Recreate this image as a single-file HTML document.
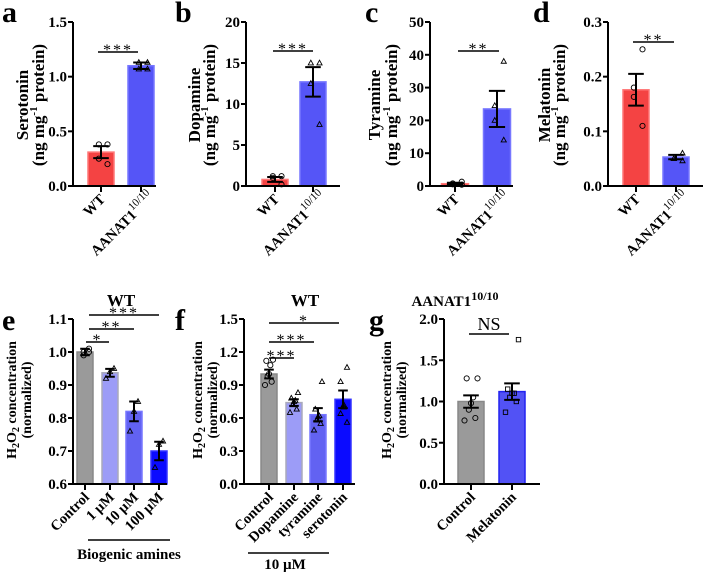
<!DOCTYPE html>
<html><head><meta charset="utf-8"><style>
body{margin:0;background:#fff}
svg{display:block;font-family:"Liberation Serif",serif}
.tk{font-size:15px;font-weight:bold}
.xk{font-size:14.5px;font-weight:bold}
.ttl{font-size:17px;font-weight:bold}
.h2t{font-size:14px;font-weight:bold}
.lt{font-size:30px;font-weight:bold}
</style></head><body>
<svg id="fig" width="705" height="573" viewBox="0 0 705 573"></svg>
<script>
// ---- data ----
const aCats=["WT","AANAT1"], aMeans=[0.31,1.10], aErr=[0.055,0.03], aPts=[[0.38,0.38,0.25,0.2],[1.13,1.13,1.07,1.07]];
const bMeans=[0.8,12.7], bErr=[0.3,1.8], bPts=[[1.2,1.2,1.0,0.2],[15,15,12.5,7.5]];
const cMeans=[0.7,23.5], cErr=[0.3,5.5], cPts=[[1.3,0.8,0.5,0.4],[38,24.5,20,14]];
const dMeans=[0.176,0.053], dErr=[0.029,0.004], dPts=[[0.25,0.18,0.163,0.11],[0.06,0.05,0.05,0.046]];
const eCats=["Control","1 µM","10 µM","100 µM"], eMeans=[1.0,0.937,0.82,0.70], eErr=[0.01,0.012,0.03,0.028];
const ePts=[[1.01,1.0,0.99,1.0],[0.95,0.94,0.92],[0.85,0.82,0.76],[0.73,0.72,0.65]];
const fCats=["Control","Dopamine","tyramine","serotonin"], fMeans=[1.0,0.74,0.63,0.77], fErr=[0.04,0.03,0.06,0.08];
const fPts=[[1.13,1.12,1.08,1.0,0.98,0.93,0.9],[0.83,0.78,0.76,0.75,0.72,0.68,0.65],[0.93,0.68,0.62,0.61,0.58,0.55,0.49],[1.06,0.93,0.72,0.7,0.64,0.56]];
const gCats=["Control","Melatonin"], gMeans=[1.0,1.12], gErr=[0.075,0.1];
const gPts=[[1.28,1.28,1.05,0.98,0.9,0.8,0.77],[1.75,1.15,1.1,1.1,1.05,1.0,0.87]];
const aTicks=[0,0.5,1.0,1.5], bTicks=[0,5,10,15,20], cTicks=[0,10,20,30,40,50], dTicks=[0,0.1,0.2,0.3];
const eTicks=[0.6,0.7,0.8,0.9,1.0,1.1], fTicks=[0,0.3,0.6,0.9,1.2,1.5], gTicks=[0,0.5,1.0,1.5,2.0];

const NS="http://www.w3.org/2000/svg", svg=document.getElementById('fig');
function mk(tag,attrs,parent,txt){const e=document.createElementNS(NS,tag);for(const k in attrs)e.setAttribute(k,attrs[k]);if(txt!==undefined)e.textContent=txt;(parent||svg).appendChild(e);return e;}
function fmt(v,d){return v.toFixed(d);}

function panel(p){
  const g=mk('g',{});
  
  
  const y=v=>p.y0+(v-p.min)/(p.max-p.min)*(p.y1-p.y0);
  p.means.forEach((m,i)=>{
    const cx=p.cx[i], w=p.bw;
    const r=mk('rect',{x:cx-w/2,y:y(m),width:w,height:p.y0-y(m),fill:p.colors[i],stroke:p.strokes[i],'stroke-width':1.5},g);
    
    
  });
  p.pts.forEach((arr,i)=>{
    const n=arr.length;
    arr.forEach((v,j)=>{
      const off=n>1?(j-(n-1)/2)*(p.bw*0.5/(n-1))*((j%2)?1:-1):0, px=p.cx[i]+off, py=y(v), sh=p.shapes[i];
      let el;
      if(sh==='c') el=mk('circle',{cx:px,cy:py,r:2.6,fill:'none',stroke:'#000','stroke-width':0.9},g);
      else if(sh==='t') el=mk('polygon',{points:`${px},${py-2.8} ${px-2.6},${py+1.9} ${px+2.6},${py+1.9}`,fill:'none',stroke:'#000','stroke-width':0.9},g);
      else el=mk('rect',{x:px-2.2,y:py-2.2,width:4.4,height:4.4,fill:'none',stroke:'#000','stroke-width':0.9},g);
      
      
    });
  });
  p.means.forEach((m,i)=>{
    const cx=p.cx[i],hi=y(m+p.err[i]),lo=y(m-p.err[i]),cw=p.bw*0.3;
    const e=mk('path',{d:`M${cx},${hi}V${lo}M${cx-cw},${hi}H${cx+cw}M${cx-cw},${lo}H${cx+cw}`,stroke:'#000','stroke-width':2,fill:'none'},g);
    
    
  });
  const ax=mk('path',{d:`M${p.ax},${p.y1}V${p.y0}H${p.xend}`,stroke:'#000','stroke-width':2,fill:'none'},g);
  
  
  p.ticks.forEach(t=>{
    mk('line',{x1:p.ax-5,x2:p.ax,y1:y(t),y2:y(t),stroke:'#000','stroke-width':2},g);
    const tl=mk('text',{x:p.ax-6,y:y(t)+5,'text-anchor':'end',class:'tk'},g,fmt(t,p.dec));
    
    
  });
  p.cx.forEach((cx,i)=>{
    mk('line',{x1:cx,x2:cx,y1:p.y0,y2:p.y0+6,stroke:'#000','stroke-width':2},g);
    const t=mk('text',{transform:`translate(${cx+5},${p.y0+14}) rotate(-45)`,'text-anchor':'end',class:'xk'},g);
    
    
    if(p.cats[i]==='AANAT1'){t.setAttribute('transform',`translate(${cx+14},${p.y0+12}) rotate(-45)`);t.textContent='AANAT1';mk('tspan',{dy:-7,'font-size':'11','font-weight':'normal'},t,'10/10');}
    else t.textContent=p.cats[i];
  });
  const yt=mk('text',{transform:`translate(${p.tx1},${p.tyc}) rotate(-90)`,'text-anchor':'middle',class:p.h2?'h2t':'ttl'},g);
  
  
  if(p.h2){yt.textContent='H';mk('tspan',{dy:3,'font-size':'10'},yt,'2');mk('tspan',{dy:-3},yt,'O');mk('tspan',{dy:3,'font-size':'10'},yt,'2');mk('tspan',{dy:-3},yt,' concentration');}
  else yt.textContent=p.title;
  const yt2=mk('text',{transform:`translate(${p.tx2},${p.tyc}) rotate(-90)`,'text-anchor':'middle',class:p.h2?'h2t':'ttl'},g);
  
  
  if(p.h2) yt2.textContent='(normalized)';
  else {yt2.textContent='(ng mg';mk('tspan',{dy:-7,'font-size':'11'},yt2,'-1');mk('tspan',{dy:7},yt2,' protein)');}
  p.sig.forEach(s=>{
    const l=mk('line',{x1:s[0],x2:s[1],y1:s[2],y2:s[2],stroke:'#000','stroke-width':1.5},g);
    
    
    const st=mk('text',{x:(s[0]+s[1])/2,y:s[3]==='NS'?s[2]-4:s[2]+3,'text-anchor':'middle','font-size':s[3]==='NS'?'18':'16','letter-spacing':s[3]==='NS'?'0':'2'},g,s[3]);
    
    
  });
  const lt=mk('text',{x:p.lx,y:p.ly,class:'lt'},g,p.letter);
  
  
}
const RED='#f44343',BLUE='#5555f7';
panel({name:'panel-a',letter:'a',lx:2,ly:22,ax:73,xend:156,y0:186,y1:22,min:0,max:1.5,ticks:aTicks,dec:1,cx:[101,141],bw:26,means:aMeans,err:aErr,pts:aPts,cats:aCats,colors:[RED,BLUE],strokes:['#f77','#77f'],shapes:['c','t'],title:'Serotonin',tx1:28,tx2:44,tyc:105,sig:[[98,138,52,'***']]});
panel({name:'panel-b',letter:'b',lx:175,ly:22,ax:246,xend:340,y0:186,y1:22,min:0,max:20,ticks:bTicks,dec:0,cx:[275,313],bw:26,means:bMeans,err:bErr,pts:bPts,cats:aCats,colors:[RED,BLUE],strokes:['#f77','#77f'],shapes:['c','t'],title:'Dopamine',tx1:200,tx2:215,tyc:105,sig:[[273,313,51,'***']]});
panel({name:'panel-c',letter:'c',lx:365,ly:22,ax:430,xend:513,y0:186,y1:22,min:0,max:50,ticks:cTicks,dec:0,cx:[455,497],bw:27,means:cMeans,err:cErr,pts:cPts,cats:aCats,colors:[RED,BLUE],strokes:['#f77','#77f'],shapes:['c','t'],title:'Tyramine',tx1:380,tx2:397,tyc:105,sig:[[458,499,51,'**']]});
panel({name:'panel-d',letter:'d',lx:533,ly:22,ax:608,xend:703,y0:186,y1:22,min:0,max:0.3,ticks:dTicks,dec:1,cx:[636,676],bw:26,means:dMeans,err:dErr,pts:dPts,cats:aCats,colors:[RED,BLUE],strokes:['#f77','#77f'],shapes:['c','t'],title:'Melatonin',tx1:550,tx2:565,tyc:105,sig:[[633,674,42,'**']]});
panel({name:'panel-e',letter:'e',lx:2,ly:330,ax:73,xend:167,y0:484,y1:319,min:0.6,max:1.1,ticks:eTicks,dec:1,cx:[85,110,134,159],bw:16,means:eMeans,err:eErr,pts:ePts,cats:eCats,colors:['#9a9a9a','#9c9cf7','#6262f2','#0b0bff'],strokes:['#888','#aab','#77f','#33f'],shapes:['c','t','t','t'],h2:true,tx1:16,tx2:31,tyc:400,sig:[[86,109,342,'*'],[89,134,329,'**'],[89,159,315,'***']]});
panel({name:'panel-f',letter:'f',lx:175,ly:330,ax:244,xend:355,y0:484,y1:319,min:0,max:1.5,ticks:fTicks,dec:1,cx:[269,294,318,343],bw:16,means:fMeans,err:fErr,pts:fPts,cats:fCats,colors:['#9a9a9a','#9c9cf7','#6262f2','#0b0bff'],strokes:['#888','#aab','#77f','#33f'],shapes:['c','t','t','t'],h2:true,tx1:202,tx2:217,tyc:400,sig:[[269,294,358,'***'],[269,314,342,'***'],[269,339,323,'*']]});
panel({name:'panel-g',letter:'g',lx:369,ly:330,ax:444,xend:540,y0:484,y1:319,min:0,max:2.0,ticks:gTicks,dec:1,cx:[471,512],bw:26,means:gMeans,err:gErr,pts:gPts,cats:gCats,colors:['#9a9a9a','#5252f5'],strokes:['#888','#2222f0'],shapes:['c','s'],h2:true,tx1:391,tx2:406,tyc:400,sig:[[469,509,334,'NS']]});
function txt(x,y,s,name,size){const t=mk('text',{x:x,y:y,'text-anchor':'middle','font-size':size||16,'font-weight':'bold'},svg,s);return t;}
txt(121,306,'WT','panel-e-title',17);
txt(305,306,'WT','panel-f-title',17);
const gt=txt(455,306,'AANAT1','panel-g-title',15);mk('tspan',{dy:-6,'font-size':'12'},gt,'10/10');
const l1=mk('line',{x1:88,x2:170,y1:540,y2:540,stroke:'#000','stroke-width':1.5});
txt(129,559,'Biogenic amines','group-label',15);
const l2=mk('line',{x1:248,x2:329,y1:553,y2:553,stroke:'#000','stroke-width':1.5});
txt(285,569,'10 µM','group-label',15);
</script>
</body></html>
